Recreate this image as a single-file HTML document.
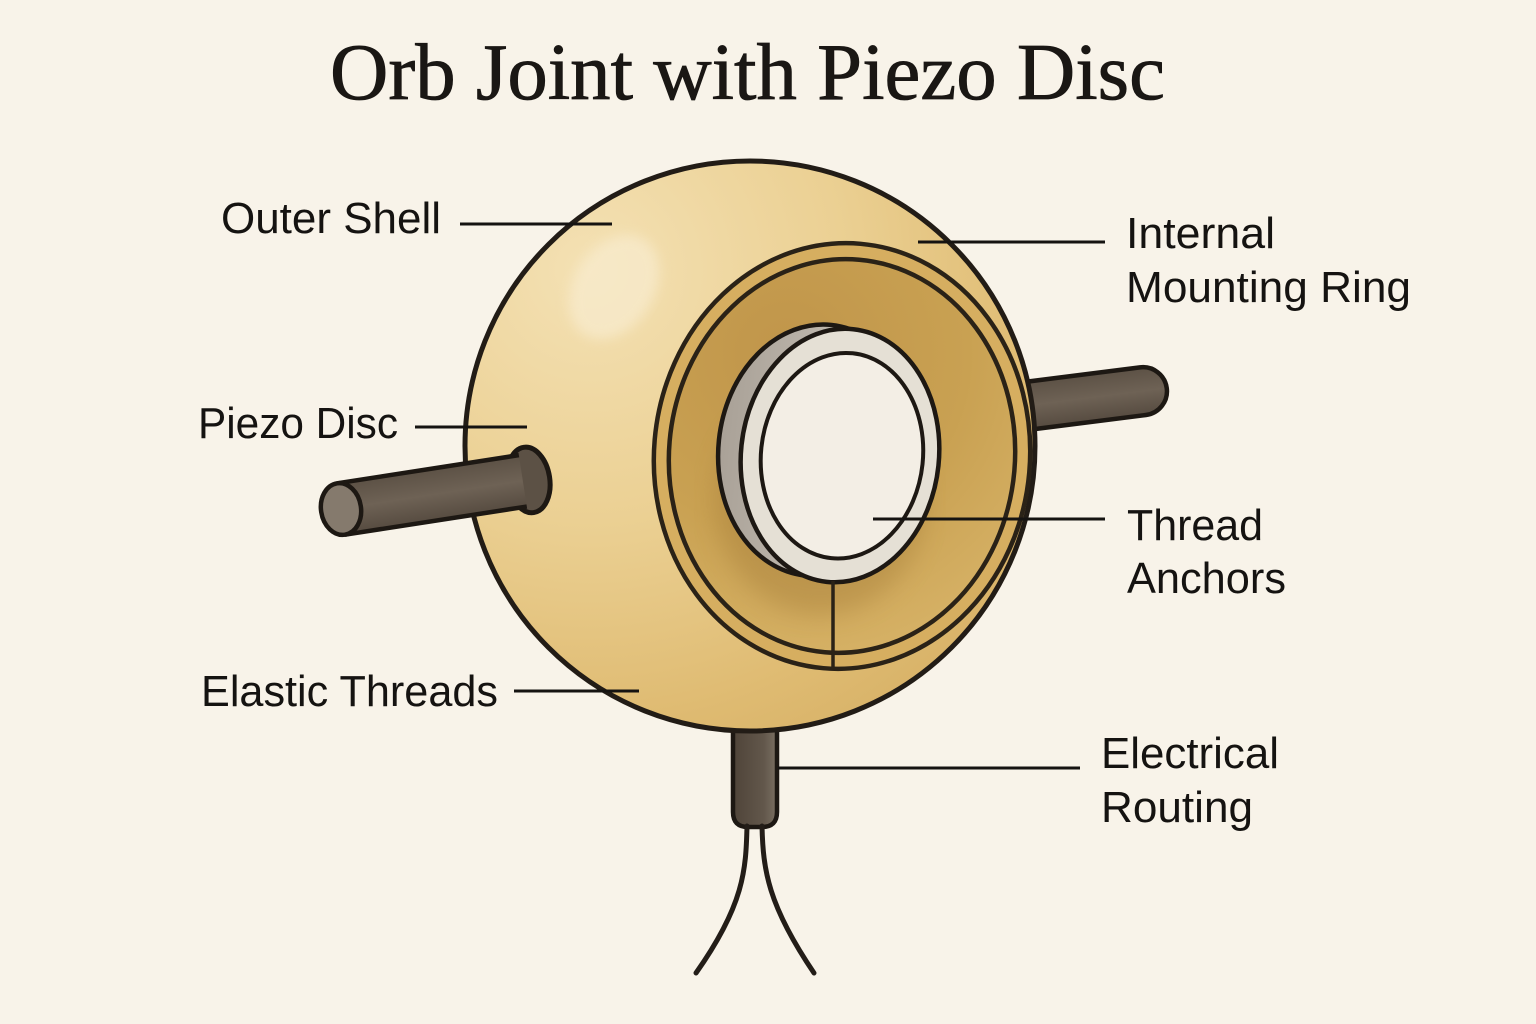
<!DOCTYPE html>
<html>
<head>
<meta charset="utf-8">
<style>
  html,body{margin:0;padding:0;background:#f8f3e9;}
  svg{display:block;}
  .lbl{font-family:"Liberation Sans",sans-serif;font-size:44px;fill:#151311;}
</style>
</head>
<body>
<svg width="1536" height="1024" viewBox="0 0 1536 1024" xmlns="http://www.w3.org/2000/svg">
  <defs>
    <radialGradient id="orbG" cx="590" cy="270" r="560" gradientUnits="userSpaceOnUse">
      <stop offset="0" stop-color="#f4e1b4"/>
      <stop offset="0.45" stop-color="#ebd093"/>
      <stop offset="0.8" stop-color="#dfbb72"/>
      <stop offset="1" stop-color="#d6b065"/>
    </radialGradient>
    <radialGradient id="ringIn" cx="780" cy="360" r="300" gradientUnits="userSpaceOnUse">
      <stop offset="0" stop-color="#c0954a"/>
      <stop offset="0.6" stop-color="#c9a152"/>
      <stop offset="1" stop-color="#d5b064"/>
    </radialGradient>
    <linearGradient id="discSide" x1="0" y1="0" x2="1" y2="0">
      <stop offset="0" stop-color="#a9a197"/>
      <stop offset="1" stop-color="#d4cec4"/>
    </linearGradient>
    <linearGradient id="rodG" x1="0" y1="0" x2="0" y2="1">
      <stop offset="0" stop-color="#5c5145"/>
      <stop offset="0.5" stop-color="#6e6255"/>
      <stop offset="1" stop-color="#564b40"/>
    </linearGradient>
    <linearGradient id="plugG" x1="0" y1="0" x2="1" y2="0">
      <stop offset="0" stop-color="#4f4439"/>
      <stop offset="0.7" stop-color="#62574b"/>
      <stop offset="1" stop-color="#7a6f62"/>
    </linearGradient>
    <filter id="blur6"><feGaussianBlur stdDeviation="6"/></filter>
    <filter id="blur12"><feGaussianBlur stdDeviation="12"/></filter>
  </defs>

  <rect width="1536" height="1024" fill="#f8f3e9"/>

  <!-- Title -->
  <text x="330" y="99" font-family="'Liberation Serif',serif" font-size="80" fill="#1a1714" stroke="#1a1714" stroke-width="0.8" textLength="835" lengthAdjust="spacingAndGlyphs">Orb Joint with Piezo Disc</text>

  <!-- Right rod (behind orb) -->
  <g transform="translate(1010,408) rotate(-7.2)">
    <path d="M0,-24 L134,-24 A24,24 0 0 1 134,24 L0,24 Z" fill="url(#rodG)" stroke="#1d1813" stroke-width="4.5"/>
  </g>

  <!-- Bottom plug (behind orb) -->
  <path d="M733,700 L777,700 L777,812 Q777,827 762,827 L748,827 Q733,827 733,812 Z" fill="url(#plugG)" stroke="#1d1813" stroke-width="4.5"/>

  <!-- Wires -->
  <path d="M747,826 C746,870 744,905 696,973" fill="none" stroke="#231d18" stroke-width="5" stroke-linecap="round"/>
  <path d="M762,826 C763,870 768,905 814,973" fill="none" stroke="#231d18" stroke-width="5" stroke-linecap="round"/>

  <!-- Orb -->
  <circle cx="750" cy="446" r="285" fill="url(#orbG)" stroke="#221c16" stroke-width="5"/>
  <ellipse cx="614" cy="287" rx="40" ry="56" transform="rotate(32 614 287)" fill="#f8ebcd" opacity="0.75" filter="url(#blur6)"/>

  <!-- Mounting ring -->
  <g transform="rotate(5 842 456)">
    <ellipse cx="842" cy="456" rx="188" ry="213" fill="#d6ae60" stroke="#2a2217" stroke-width="4.5"/>
    <ellipse cx="842" cy="456" rx="173" ry="197" fill="url(#ringIn)" stroke="#2a2217" stroke-width="4.5"/>
  </g>

  <!-- shadow under disc -->
  <ellipse cx="820" cy="500" rx="105" ry="115" fill="#9e7634" opacity="0.35" filter="url(#blur12)"/>

  <!-- Piezo disc -->
  <g transform="rotate(6 835 455)">
    <ellipse cx="818" cy="452" rx="100" ry="126" fill="url(#discSide)" stroke="#1d1813" stroke-width="4.5"/>
    <ellipse cx="840" cy="455" rx="99" ry="127" fill="#e5e0d5" stroke="#1d1813" stroke-width="4.5"/>
    <ellipse cx="842" cy="455" rx="81" ry="103" fill="#f3eee5" stroke="#1d1813" stroke-width="4"/>
  </g>

  <!-- vertical anchor line -->
  <line x1="833" y1="581" x2="833" y2="668" stroke="#2a2217" stroke-width="3.5"/>

  <!-- Left rod (in front) -->
  <g transform="translate(341,509) rotate(-8.8)">
    <ellipse cx="190" cy="0" rx="21" ry="33" fill="#5c5145" stroke="#1d1813" stroke-width="5"/>
    <rect x="0" y="-26" width="184" height="52" fill="url(#rodG)"/>
    <line x1="0" y1="-26" x2="184" y2="-26" stroke="#1d1813" stroke-width="4.5"/>
    <line x1="0" y1="26" x2="184" y2="26" stroke="#1d1813" stroke-width="4.5"/>
    <ellipse cx="0" cy="0" rx="20" ry="26" fill="#857a6d" stroke="#1d1813" stroke-width="4.5"/>
  </g>

  <!-- Leader lines -->
  <g stroke="#151311" stroke-width="3">
    <line x1="460" y1="224" x2="612" y2="224"/>
    <line x1="415" y1="427" x2="527" y2="427"/>
    <line x1="514" y1="691" x2="639" y2="691"/>
    <line x1="918" y1="242" x2="1105" y2="242"/>
    <line x1="873" y1="519" x2="1105" y2="519"/>
    <line x1="778" y1="768" x2="1080" y2="768"/>
  </g>

  <!-- Labels -->
  <text class="lbl" x="221" y="233" textLength="220" lengthAdjust="spacingAndGlyphs">Outer Shell</text>
  <text class="lbl" x="198" y="438" textLength="200" lengthAdjust="spacingAndGlyphs">Piezo Disc</text>
  <text class="lbl" x="201" y="706" textLength="297" lengthAdjust="spacingAndGlyphs">Elastic Threads</text>
  <text class="lbl" x="1126" y="248" textLength="149" lengthAdjust="spacingAndGlyphs">Internal</text>
  <text class="lbl" x="1126" y="302" textLength="285" lengthAdjust="spacingAndGlyphs">Mounting Ring</text>
  <text class="lbl" x="1127" y="540" textLength="136" lengthAdjust="spacingAndGlyphs">Thread</text>
  <text class="lbl" x="1127" y="593" textLength="159" lengthAdjust="spacingAndGlyphs">Anchors</text>
  <text class="lbl" x="1101" y="768" textLength="178" lengthAdjust="spacingAndGlyphs">Electrical</text>
  <text class="lbl" x="1101" y="822" textLength="152" lengthAdjust="spacingAndGlyphs">Routing</text>
</svg>
</body>
</html>
